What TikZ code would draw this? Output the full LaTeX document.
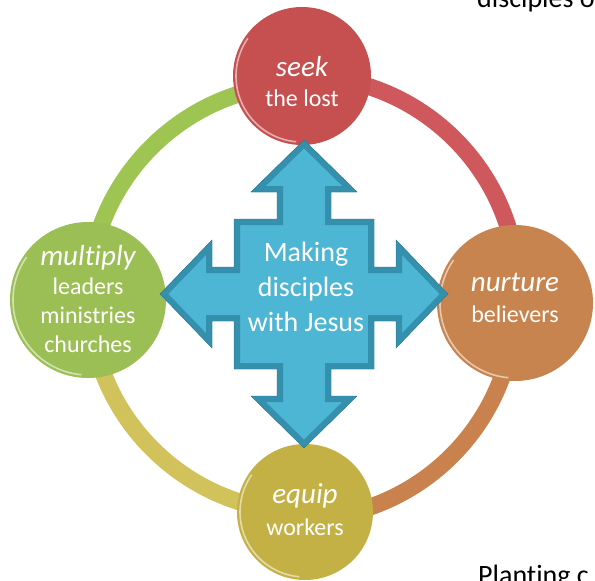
\documentclass[tikz,border=0pt]{standalone}
\usepackage{fontspec}
\setmainfont{Carlito}[Ligatures = NoCommon]
\usepackage{xcolor}
\usepackage{tikz}
\usetikzlibrary{positioning,calc}
\pgfdeclarelayer{bg}
\pgfsetlayers{bg,main}

\definecolor{seekred}{HTML}{C5504F}
\definecolor{nurturetan}{HTML}{C8844F}
\definecolor{equipgold}{HTML}{C4B146}
\definecolor{multgreen}{HTML}{9BBF55}
\definecolor{seekarc}{HTML}{CE585B}
\definecolor{nurturearc}{HTML}{C9824D}
\definecolor{equiparc}{HTML}{D2C25C}
\definecolor{multarc}{HTML}{9EC451}
\definecolor{hubblue}{HTML}{4DB6D4}
\definecolor{hubedge}{HTML}{3590AD}
\definecolor{hubline}{HTML}{2A7690}

\newcommand{\keyword}[1]{{\fontsize{29}{30}\selectfont\itshape #1}}

\begin{document}
\begin{tikzpicture}[
					x = 1pt, y = -1pt,
					bubble/.style = {circle, inner sep = 0pt, minimum size = #1},
					bubbletext/.style = {text = white, align = center, font = \fontsize{24}{30}\selectfont},
					hubtext/.style = {text = white, align = center, font = \fontsize{28}{35}\selectfont},
					pagetext/.style = {text = black, anchor = base west, inner sep = 0pt, font = \fontsize{28}{34}\selectfont},
					ringarc/.style = {line width = 17pt},
					rim/.style = {white, opacity = 0.55, line width = 1.6pt}
					]

					\def\rr{216}
					\def\crosspath{(0,-154) -- (53,-102) -- (27,-102) -- (27,-75) -- (70,-75) -- (70,-27) -- (92,-27) -- (92,-54) -- (144,0) -- (92,54) -- (92,27) -- (70,27) -- (70,75) -- (27,75) -- (27,102) -- (53,102) -- (0,154) -- (-53,102) -- (-27,102) -- (-27,75) -- (-70,75) -- (-70,27) -- (-92,27) -- (-92,54) -- (-144,0) -- (-92,-54) -- (-92,-27) -- (-70,-27) -- (-70,-75) -- (-27,-75) -- (-27,-102) -- (-53,-102) -- cycle}

					\useasboundingbox (0,0) rectangle (595,581);

					\node[bubble = 138pt, fill = seekred] (seek) at (302,76) {};
					\node[bubble = 156pt, fill = nurturetan] (nurture) at (515,303) {};
					\node[bubble = 136pt, fill = equipgold] (equip) at (305,512) {};
					\node[bubble = 156pt, fill = multgreen] (multiply) at (88,300) {};

					\begin{pgfonlayer}{bg}
						\draw[ringarc, seekarc] (seek.center) arc[start angle = -90, end angle = 0, radius = \rr];
						\draw[ringarc, nurturearc] (nurture.center) arc[start angle = 0, end angle = 90, radius = \rr];
						\draw[ringarc, equiparc] (equip.center) arc[start angle = 90, end angle = 180, radius = \rr];
						\draw[ringarc, multarc] (multiply.center) arc[start angle = 180, end angle = 270, radius = \rr];
					\end{pgfonlayer}

					\draw[rim] ([shift = {(95:66)}]seek.center) arc[start angle = 95, end angle = 215, radius = 66];
					\draw[rim] ([shift = {(95:75)}]nurture.center) arc[start angle = 95, end angle = 215, radius = 75];
					\draw[rim] ([shift = {(95:65)}]equip.center) arc[start angle = 95, end angle = 215, radius = 65];
					\draw[rim] ([shift = {(95:75)}]multiply.center) arc[start angle = 95, end angle = 215, radius = 75];

					\node[bubbletext] (seektext) at (302,82) {\keyword{seek}\\the lost};
					\node[bubbletext, font = \fontsize{24}{31}\selectfont] (nurturetext) at (515,298) {\keyword{nurture}\\believers};
					\node[bubbletext, font = \fontsize{24}{32}\selectfont] (equiptext) at (305,510) {\keyword{equip}\\workers};
					\node[bubbletext, font = \fontsize{24}{29}\selectfont] (multiplytext) at (88,299) {\keyword{multiply}\\leaders\\ministries\\churches};

					\coordinate (hub) at (304,294);
					\begin{scope}[shift = {(hub)}]
						\fill[hubblue] \crosspath;
						\begin{scope}
							\clip \crosspath;
							\draw[hubedge, line width = 12pt, line join = miter] \crosspath;
						\end{scope}
						\draw[hubline, line width = 0.4pt, line join = miter] \crosspath;
					\end{scope}

					\node[hubtext] (making) at (306,287) {Making\\disciples\\with Jesus};

					\node[pagetext] (pagetop) at (477,7) {disciples o};
					\node[pagetext] (pagebottom) at (478,584) {Planting c};

				\end{tikzpicture}
\end{document}
